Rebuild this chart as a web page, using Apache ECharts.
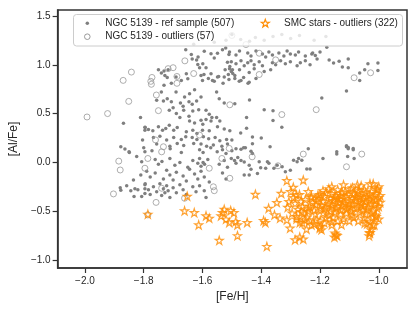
<!DOCTYPE html>
<html><head><meta charset="utf-8">
<script src="https://cdn.jsdelivr.net/npm/echarts@6/dist/echarts.min.js"></script>
<style>html,body{margin:0;padding:0;background:#fff}#c{width:419px;height:314px}</style>
</head><body><div id="c"></div>
<script>
const xTicks = [-2.0, -1.8, -1.6, -1.4, -1.2, -1.0];
const yTicks = [-1.0, -0.5, 0.0, 0.5, 1.0, 1.5];
const seriesNames = ['NGC 5139 - ref sample (507)', 'NGC 5139 - outliers (57)', 'SMC stars - outliers (322)'];

const refSample = [
[-1.657,1.153],[-1.638,1.105],[-1.635,1.06],[-1.615,1.08],[-1.62,1.05],[-1.594,1.139],[-1.571,1.112],[-1.56,1.07],[-1.532,1.153],[-1.521,1.173],[-1.549,1.119],[-1.51,1.105],[-1.515,1.027],[-1.507,0.983],[-1.498,0.95],[-1.523,0.95],[-1.599,1.01],[-1.588,0.969],[-1.616,1.003],[-1.61,0.969],
[-1.75,0.95],[-1.74,0.915],[-1.731,0.935],[-1.717,0.95],[-1.728,0.89],[-1.72,0.87],[-1.69,0.874],[-1.672,0.84],[-1.655,0.908],[-1.65,0.857],[-1.605,0.89],[-1.6,0.84],[-1.571,0.908],[-1.566,0.84],[-1.549,0.874],[-1.526,0.874],[-1.512,0.9],[-1.706,0.81],[-1.731,0.79],[-1.74,0.72],[-1.69,0.72],[-1.661,0.67],[-1.644,0.704],[-1.627,0.745],[-1.605,0.67],[-1.552,0.72],[-1.543,0.653],[-1.526,0.608],
[-1.756,0.636],[-1.733,0.63],[-1.72,0.653],[-1.706,0.62],[-1.675,0.608],[-1.666,0.574],[-1.646,0.62],[-1.635,0.595],[-1.62,0.63],[-1.633,0.527],[-1.613,0.54],[-1.588,0.534],[-1.577,0.493],[-1.568,0.46],[-1.588,0.438],[-1.571,0.425],[-1.552,0.46],[-1.541,0.425],[-1.713,0.534],[-1.7,0.56],[-1.689,0.5],[-1.664,0.534],[-1.677,0.46],[-1.646,0.473],[-1.644,0.425],[-1.627,0.404],[-1.605,0.432],[-1.599,0.39],
[-1.795,0.357],[-1.784,0.336],[-1.769,0.323],[-1.75,0.364],[-1.736,0.33],[-1.725,0.347],[-1.713,0.38],[-1.698,0.33],[-1.686,0.357],[-1.655,0.313],[-1.633,0.33],[-1.619,0.296],[-1.6,0.33],[-1.577,0.323],[-1.549,0.364],[-1.526,0.343],[-1.507,0.323],[-1.767,0.255],[-1.745,0.268],[-1.722,0.228],[-1.698,0.255],[-1.672,0.234],[-1.657,0.262],[-1.635,0.255],[-1.619,0.234],[-1.597,0.262],[-1.579,0.241],[-1.557,0.255],[-1.541,0.221],[-1.518,0.234],[-1.515,0.187],[-1.756,0.187],[-1.711,0.166],[-1.686,0.194],[-1.664,0.173],[-1.63,0.194],[-1.605,0.187],[-1.586,0.166],[-1.563,0.177],[-1.534,0.166],
[-1.869,0.40],[-1.811,0.46],[-1.796,0.36],[-1.796,0.33],[-1.804,0.23],[-1.878,0.16],[-1.864,0.136],[-1.85,0.11],[-1.849,0.10],[-1.824,0.06],[-1.807,0.006],[-1.796,0.11],[-1.81,-0.13],[-1.835,-0.18],[-1.858,-0.24],[-1.88,-0.26],[-1.878,-0.285],[-1.844,-0.29],[-1.83,-0.27],[-1.82,-0.28],[-1.833,-0.35],[-1.807,-0.35],[-1.796,-0.27],[-1.796,-0.23],[-1.796,-0.32],
[-1.80,0.15],[-1.772,0.12],[-1.71,0.14],[-1.672,0.10],[-1.61,0.13],[-1.598,0.10],[-1.572,0.15],[-1.55,0.11],[-1.532,0.13],[-1.52,0.09],[-1.50,0.12],
[-1.761,0.03],[-1.75,-0.02],[-1.738,0.01],[-1.711,0.04],[-1.694,-0.03],[-1.677,0.0],[-1.65,-0.05],[-1.633,0.02],[-1.616,-0.01],[-1.61,0.04],[-1.605,-0.04],[-1.598,0.0],[-1.593,-0.02],[-1.582,0.03],[-1.543,-0.02],[-1.526,0.02],[-1.515,-0.05],
[-1.79,-0.09],[-1.778,-0.15],[-1.761,-0.11],[-1.733,-0.17],[-1.722,-0.08],[-1.711,-0.13],[-1.70,-0.18],[-1.689,-0.10],[-1.666,-0.14],[-1.655,-0.19],[-1.644,-0.07],[-1.627,-0.12],[-1.616,-0.17],[-1.605,-0.09],[-1.594,-0.15],[-1.577,-0.20],[-1.532,-0.11],[-1.52,-0.17],
[-1.795,-0.22],[-1.784,-0.28],[-1.778,-0.33],[-1.767,-0.25],[-1.756,-0.30],[-1.745,-0.22],[-1.739,-0.34],[-1.733,-0.27],[-1.728,-0.31],[-1.722,-0.24],[-1.717,-0.29],[-1.711,-0.36],[-1.70,-0.26],[-1.689,-0.31],[-1.677,-0.23],[-1.666,-0.28],[-1.655,-0.33],[-1.633,-0.25],[-1.622,-0.30],[-1.61,-0.24],[-1.594,-0.29],[-1.588,-0.36],
[-1.486,0.14],[-1.469,0.135],[-1.454,0.15],[-1.435,0.115],[-1.43,0.09],[-1.502,0.04],[-1.491,0.02],[-1.48,0.05],[-1.469,0.02],[-1.458,0.005],[-1.486,-0.01],[-1.441,-0.03],[-1.435,-0.07],[-1.407,0.006],[-1.402,-0.055],[-1.385,-0.06],[-1.379,0.006],[-1.374,-0.01],[-1.357,-0.06],[-1.346,-0.03],[-1.329,-0.045],[-1.318,-0.095],[-1.301,-0.08],[-1.29,0.023],[-1.278,0.006],[-1.273,0.04],[-1.262,0.023],[-1.245,-0.068],[-1.234,-0.068],[-1.458,-0.13],[-1.441,-0.13],[-1.413,-0.113],
[-1.11,0.16],[-1.104,0.14],[-1.087,0.13],[-1.143,0.11],[-1.143,0.085],[-1.19,0.04],[-1.106,0.06],[-1.084,0.04],
[-1.44,0.64],[-1.49,0.60],[-1.39,0.54],[-1.36,0.53],[-1.45,0.46],[-1.36,0.43],[-1.33,0.36],[-1.45,0.35],[-1.47,0.30],[-1.43,0.26],[-1.40,0.25],[-1.50,0.23],[-1.46,0.15],[-1.43,0.19],[-1.37,0.16],[-1.24,0.14],
[-1.595,0.90],[-1.58,0.86],[-1.56,0.83],[-1.545,0.88],[-1.53,0.81],[-1.51,0.85],[-1.49,0.89],[-1.475,0.83],[-1.46,0.87],[-1.445,0.81],[-1.49,0.86],[-1.469,0.84],[-1.441,0.82],[-1.418,0.86],
[-1.508,1.13],[-1.486,1.10],[-1.474,1.14],[-1.446,1.12],[-1.435,1.09],[-1.418,1.14],[-1.396,1.11],[-1.385,1.08],[-1.374,1.13],[-1.362,1.10],[-1.34,1.12],[-1.323,1.09],[-1.312,1.14],[-1.301,1.11],[-1.284,1.10],[-1.273,1.13],[-1.25,1.09],[-1.228,1.11],
[-1.502,1.03],[-1.486,1.01],[-1.469,1.04],[-1.458,0.99],[-1.446,1.02],[-1.435,1.04],[-1.424,1.00],[-1.407,1.03],[-1.396,0.99],[-1.362,1.02],[-1.351,1.00],[-1.334,1.04],[-1.318,1.01],[-1.301,1.03],[-1.278,0.99],[-1.267,1.02],[-1.25,1.04],[-1.234,1.00],
[-1.508,0.96],[-1.502,0.93],[-1.497,0.91],[-1.474,0.95],[-1.441,0.92],[-1.424,0.96],[-1.39,0.93],[-1.368,0.95],
[-1.177,1.18],[-1.216,1.095],[-1.169,1.05],[-1.154,1.017],[-1.135,1.037],[-1.104,1.06],[-1.124,0.976],[-1.104,0.97],[-1.037,1.01],[-1.003,1.017],[-1.048,0.95],[-1.003,0.94],[-1.065,0.915],[-1.065,0.84],[-1.11,0.73],[-1.194,0.66],[-1.11,0.17],[-1.104,0.153],[-1.087,0.143],[-1.225,1.12],[-1.21,1.06],[-1.2,1.13],
[-1.63,1.21],[-1.56,1.23],[-1.52,1.25],[-1.47,1.26],[-1.44,1.24],[-1.42,1.28],[-1.39,1.25],[-1.36,1.29],[-1.33,1.31],[-1.30,1.27],[-1.27,1.30],[-1.22,1.25],[-1.18,1.29],[-1.60,1.27],[-1.50,1.31]
];

const ngcOutliers = [
[-1.993,0.465],[-1.923,0.50],[-1.851,0.625],[-1.87,0.84],[-1.842,0.925],[-1.786,0.04],[-1.774,0.80],[-1.772,0.87],[-1.776,0.83],[-1.757,0.69],[-1.75,0.53],[-1.717,0.96],[-1.70,0.97],[-1.687,0.88],[-1.687,0.81],[-1.66,1.04],[-1.63,0.91],[-1.76,0.23],[-1.61,0.28],[-1.733,0.16],
[-1.407,1.118],[-1.407,0.90],[-1.084,0.867],[-1.028,0.918],[-1.507,0.59],[-1.33,0.49],[-1.213,0.54],[-1.431,0.057],[-1.257,0.085],[-1.058,0.085],[-1.452,1.207],[-1.351,1.05],
[-1.885,0.013],[-1.88,-0.078],[-1.903,-0.323],[-1.796,-0.06],[-1.786,-0.538],[-1.758,-0.41],[-1.739,-0.265],[-1.661,-0.367],[-1.739,0.108],[-1.563,-0.25],[-1.577,-0.06],[-1.507,-0.163],[-1.534,0.04],[-1.509,0.143],[-1.343,-0.035],[-1.11,-0.045],[-1.56,-0.29],[-1.50,1.30]
];

const smcStars = [
[-1.786,-0.531],[-1.652,-0.347],[-1.661,-0.497],[-1.628,-0.515],[-1.613,-0.64],
[-1.504,-0.494],[-1.493,-0.514],[-1.532,-0.514],[-1.526,-0.481],[-1.537,-0.548],[-1.52,-0.582],[-1.509,-0.616],[-1.577,-0.572],[-1.588,-0.548],[-1.543,-0.799],[-1.487,-0.606],[-1.481,-0.64],[-1.481,-0.751],[-1.448,-0.616],[-1.42,-0.327],[-1.392,-0.596],[-1.386,-0.616],[-1.381,-0.861],[-1.375,-0.47],[-1.355,-0.538],[-1.347,-0.411],[-1.336,-0.571],[-1.332,-0.317],[-1.313,-0.187],[-1.313,-0.589],[-1.306,-0.401],[-1.302,-0.674],[-1.291,-0.255],[-1.285,-0.793],[-1.28,-0.334],[-1.28,-0.555],[-1.269,-0.616],[-1.269,-0.766],[-1.263,-0.504],[-1.257,-0.181],[-1.257,-0.786],[-1.252,-0.589],[-1.246,-0.684],[-1.24,-0.47],[-1.229,-0.351],[-1.229,-0.64],[-1.213,-0.589],[-1.207,-0.334],[-1.201,-0.674],[-1.145,-0.742],[-1.151,-0.766],[-1.03,-0.718],[-1.033,-0.752],[-1.073,-0.231],[-1.019,-0.22],[-1.005,-0.28],
[-1.16,-0.25],[-1.12,-0.23],[-1.09,-0.26],[-1.06,-0.24],[-1.03,-0.22],[-1.0,-0.25],
[-1.19,-0.29],[-1.17,-0.27],[-1.14,-0.28],[-1.115,-0.30],[-1.095,-0.27],[-1.07,-0.29],[-1.05,-0.28],[-1.025,-0.30],[-1.005,-0.27],
[-1.20,-0.33],[-1.18,-0.31],[-1.16,-0.32],[-1.145,-0.34],[-1.125,-0.31],[-1.105,-0.33],[-1.085,-0.32],[-1.065,-0.34],[-1.045,-0.31],[-1.03,-0.33],[-1.01,-0.32],[-0.995,-0.34],
[-1.23,-0.36],[-1.205,-0.37],[-1.185,-0.35],[-1.165,-0.37],[-1.15,-0.36],[-1.13,-0.38],[-1.11,-0.35],[-1.09,-0.37],[-1.075,-0.36],[-1.055,-0.38],[-1.04,-0.35],[-1.02,-0.37],[-1.0,-0.36],
[-1.225,-0.41],[-1.21,-0.39],[-1.19,-0.40],[-1.17,-0.42],[-1.155,-0.39],[-1.135,-0.41],[-1.12,-0.40],[-1.10,-0.42],[-1.08,-0.39],[-1.06,-0.41],[-1.045,-0.40],[-1.025,-0.42],[-1.01,-0.39],[-0.995,-0.41],
[-1.235,-0.45],[-1.215,-0.43],[-1.195,-0.44],[-1.18,-0.46],[-1.16,-0.43],[-1.14,-0.45],[-1.125,-0.44],[-1.105,-0.46],[-1.09,-0.43],[-1.07,-0.45],[-1.05,-0.44],[-1.035,-0.46],[-1.015,-0.43],[-1.0,-0.45],
[-1.22,-0.49],[-1.20,-0.47],[-1.185,-0.48],[-1.165,-0.50],[-1.145,-0.47],[-1.13,-0.49],[-1.11,-0.48],[-1.095,-0.50],[-1.075,-0.47],[-1.055,-0.49],[-1.04,-0.48],[-1.02,-0.50],[-1.005,-0.47],
[-1.215,-0.53],[-1.19,-0.52],[-1.17,-0.54],[-1.15,-0.51],[-1.13,-0.53],[-1.11,-0.52],[-1.09,-0.54],[-1.065,-0.51],[-1.045,-0.53],[-1.025,-0.52],[-1.01,-0.54],
[-1.18,-0.57],[-1.155,-0.56],[-1.12,-0.58],[-1.085,-0.56],[-1.05,-0.57],[-1.02,-0.56],
[-1.13,-0.34],[-1.08,-0.35],[-1.06,-0.43],[-1.115,-0.42],[-1.03,-0.38],[-1.16,-0.45],[-1.095,-0.46],[-1.05,-0.36],[-1.14,-0.37],[-1.07,-0.31],
[-1.30,-0.30],[-1.29,-0.36],[-1.285,-0.42],[-1.275,-0.48],[-1.27,-0.33],[-1.265,-0.40],[-1.26,-0.45],[-1.255,-0.52],[-1.25,-0.38],[-1.245,-0.56],[-1.24,-0.30],[-1.24,-0.50],[-1.295,-0.52],[-1.31,-0.46],[-1.28,-0.58],[-1.26,-0.62],[-1.235,-0.60],[-1.22,-0.63],[-1.20,-0.60],[-1.185,-0.62],[-1.16,-0.61],[-1.14,-0.60],[-1.10,-0.60],[-1.07,-0.60],[-1.03,-0.61],[-1.0,-0.58],[-1.015,-0.64],[-1.04,-0.63],
[-1.20,-0.657],[-1.195,-0.69],[-1.16,-0.64],[-1.149,-0.725],[-1.142,-0.75],[-1.127,-0.637],[-1.048,-0.623],[-1.031,-0.725],[-1.026,-0.69],[-1.02,-0.64],[-1.009,-0.555]
];

const starPath = 'path://M50,2 L61.2,36.3 L97.6,36.3 L68.2,57.6 L79.4,92 L50,70.7 L20.6,92 L31.8,57.6 L2.4,36.3 L38.8,36.3 Z';
const FONT = "'Liberation Sans', Arial, 'DejaVu Sans', sans-serif";
const TXT = '#262626';
const fmt = v => (v < 0 ? '\u2212' : '') + Math.abs(v).toFixed(1);

function starPoints(cx, cy, R, r) {
  const pts = [];
  for (let i = 0; i < 10; i++) {
    const a = -Math.PI / 2 + i * Math.PI / 5;
    const rad = i % 2 === 0 ? R : r;
    pts.push([cx + rad * Math.cos(a), cy + rad * Math.sin(a)]);
  }
  return pts;
}

const chart = echarts.init(document.getElementById('c'), null, {renderer: 'canvas'});
chart.setOption({
  animation: false,
  backgroundColor: '#ffffff',
  textStyle: {fontFamily: FONT},
  grid: {left: 53, right: 12, top: 10, bottom: 46, show: true, borderColor: '#333333', borderWidth: 1.5, backgroundColor: 'transparent'},
  xAxis: {
    type: 'value', min: -2.093, max: -0.904,
    name: '[Fe/H]', nameLocation: 'middle', nameGap: 21,
    nameTextStyle: {fontSize: 12, color: TXT, fontFamily: FONT},
    axisLine: {show: true, onZero: false, lineStyle: {color: '#333333', width: 1.5}},
    axisTick: {show: true, length: 5, inside: false, customValues: xTicks, lineStyle: {color: '#333333', width: 1.2}},
    axisLabel: {customValues: xTicks, formatter: fmt, fontSize: 10, color: TXT, margin: 8, fontFamily: FONT},
    splitLine: {show: false}
  },
  yAxis: {
    type: 'value', min: -1.082, max: 1.561,
    name: '[Al/Fe]', nameLocation: 'middle', nameGap: 31,
    nameTextStyle: {fontSize: 12, color: TXT, fontFamily: FONT},
    axisLine: {show: true, onZero: false, lineStyle: {color: '#333333', width: 1.5}},
    axisTick: {show: true, length: 5, inside: false, customValues: yTicks, lineStyle: {color: '#333333', width: 1.2}},
    axisLabel: {customValues: yTicks, formatter: fmt, fontSize: 10, color: TXT, margin: 7, fontFamily: FONT},
    splitLine: {show: false}
  },
  graphic: [
    {type: 'rect', z: 10, silent: true,
     shape: {x: 73.5, y: 14.5, width: 329, height: 31.5, r: 3},
     style: {fill: 'rgba(255,255,255,0.8)', stroke: '#cccccc', lineWidth: 1}},
    {type: 'circle', z: 11, silent: true, shape: {cx: 87.3, cy: 23.3, r: 1.75}, style: {fill: '#7f7f7f'}},
    {type: 'circle', z: 11, silent: true, shape: {cx: 87.3, cy: 36.7, r: 2.8}, style: {fill: 'none', stroke: '#9a9a9a', lineWidth: 1}},
    {type: 'polygon', z: 11, silent: true, shape: {points: starPoints(265.3, 23.6, 4.2, 1.7)}, style: {fill: 'none', stroke: '#ff8c00', lineWidth: 1.2}},
    {type: 'text', z: 11, silent: true, style: {text: seriesNames[0], x: 105.3, y: 23.3, verticalAlign: 'middle', align: 'left', font: "10px 'Liberation Sans', Arial, sans-serif", fill: TXT}},
    {type: 'text', z: 11, silent: true, style: {text: seriesNames[1], x: 105.3, y: 36.7, verticalAlign: 'middle', align: 'left', font: "10px 'Liberation Sans', Arial, sans-serif", fill: TXT}},
    {type: 'text', z: 11, silent: true, style: {text: seriesNames[2], x: 284, y: 23.3, verticalAlign: 'middle', align: 'left', font: "10px 'Liberation Sans', Arial, sans-serif", fill: TXT}}
  ],
  series: [
    {type: 'scatter', name: seriesNames[0], data: refSample, symbol: 'circle', symbolSize: 3.5, z: 2,
     itemStyle: {color: '#7f7f7f', opacity: 1}, emphasis: {disabled: true}},
    {type: 'scatter', name: seriesNames[1], data: ngcOutliers, symbol: 'circle', symbolSize: 6, z: 2,
     itemStyle: {color: 'rgba(255,255,255,0)', borderColor: '#9a9a9a', borderWidth: 1}, emphasis: {disabled: true}},
    {type: 'scatter', name: seriesNames[2], data: smcStars, symbol: starPath, symbolSize: 8, z: 2,
     itemStyle: {color: 'rgba(255,255,255,0)', borderColor: '#ff8c00', borderWidth: 1.2}, emphasis: {disabled: true}}
  ]
});
</script>
</body></html>
